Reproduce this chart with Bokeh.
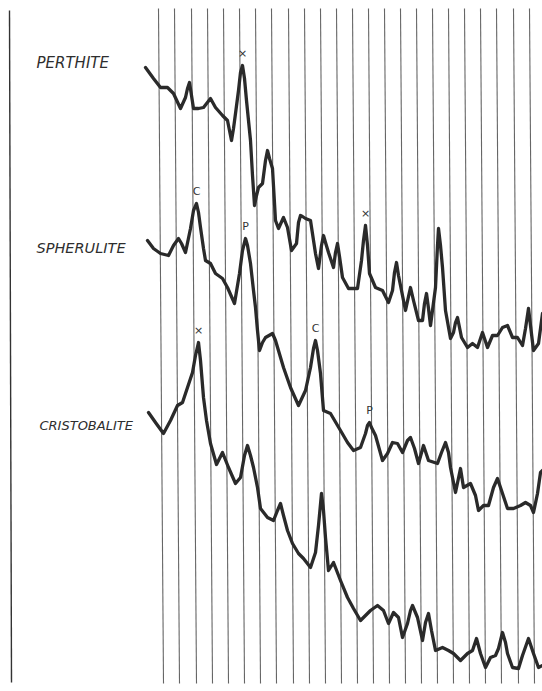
import numpy as np
from bokeh.plotting import figure
from bokeh.models import Range1d
from bokeh.core.properties import value
from bokeh.embed import file_html
from bokeh.resources import INLINE

# ---- chart paper: vertical ruling (position of each ruled line at the top edge)
grid_x = [158, 174, 191, 207, 223, 239, 255, 271, 288, 304, 320, 336,
          352, 368, 384, 400, 416, 432, 448, 464, 480, 496, 513, 529]

# ---- diffractometer traces (chart position, pen position; smaller = higher)
perthite_x = [145, 153, 160, 167, 173, 180, 185, 187, 189, 191, 193, 198, 203, 210, 215, 222,
              227, 231, 233, 235, 238, 240, 242, 244, 246, 248, 250, 252, 254, 256, 258, 262,
              265, 267, 269, 272, 275, 278, 283, 287, 291, 296, 298, 300, 302, 305, 310, 315,
              318, 321, 323, 325, 328, 333, 335, 337, 339, 342, 348, 357, 361, 363, 365, 367,
              369, 375, 382, 388, 392, 394, 396, 398, 401, 405, 408, 410, 413, 418, 422, 424,
              426, 428, 430, 435, 437, 438, 440, 442, 445, 450, 453, 455, 457, 459, 461, 467,
              472, 477, 482, 487, 492, 497, 502, 507, 512, 517, 522, 525, 528, 530, 533, 538, 542]
perthite_y = [67, 78, 87, 87, 93, 108, 97, 88, 82, 95, 108, 108, 107, 98, 107, 115,
              120, 140, 128, 113, 90, 72, 65, 78, 100, 120, 140, 175, 205, 195, 187, 183,
              160, 150, 158, 168, 220, 228, 217, 227, 250, 243, 222, 215, 216, 218, 220, 253,
              268, 245, 235, 242, 252, 267, 252, 243, 256, 277, 288, 288, 260, 240, 225, 245,
              273, 287, 290, 302, 290, 272, 262, 275, 290, 310, 296, 287, 300, 320, 320, 303,
              293, 308, 325, 287, 245, 228, 245, 267, 310, 338, 332, 322, 317, 327, 337, 347,
              343, 347, 332, 347, 335, 335, 327, 325, 337, 337, 345, 328, 308, 325, 350, 343, 313]

spherulite_x = [147, 153, 160, 168, 173, 178, 181, 185, 190, 193, 196, 198, 200, 203, 205, 210,
                215, 222, 227, 234, 239, 242, 245, 247, 250, 253, 255, 257, 259, 262, 265, 272,
                275, 283, 290, 298, 305, 310, 313, 315, 317, 320, 323, 330, 340, 347, 353, 360,
                365, 367, 369, 371, 375, 382, 387, 392, 397, 402, 407, 410, 414, 418, 423, 428,
                437, 441, 445, 448, 450, 455, 460, 463, 470, 475, 478, 483, 488, 493, 497, 502,
                507, 513, 520, 525, 530, 533, 537, 540, 542]
spherulite_y = [240, 248, 253, 255, 245, 238, 243, 252, 228, 210, 203, 212, 227, 248, 260, 263,
                273, 278, 287, 303, 273, 250, 238, 245, 263, 290, 307, 330, 350, 342, 337, 333,
                340, 367, 387, 405, 390, 367, 348, 340, 350, 373, 410, 413, 430, 442, 450, 447,
                433, 425, 422, 427, 435, 460, 453, 442, 443, 452, 440, 437, 448, 463, 445, 460,
                463, 452, 442, 452, 467, 492, 468, 487, 483, 495, 510, 505, 505, 487, 478, 493,
                508, 508, 505, 502, 505, 512, 493, 472, 470]

cristobalite_x = [148, 155, 163, 170, 177, 182, 187, 192, 195, 198, 200, 203, 206, 210, 216, 222,
                  228, 235, 240, 244, 247, 250, 253, 257, 260, 267, 273, 277, 280, 283, 287, 292,
                  298, 303, 310, 315, 318, 321, 323, 325, 328, 333, 340, 347, 353, 360, 365, 370,
                  377, 383, 388, 393, 398, 402, 407, 410, 412, 417, 422, 425, 428, 431, 435, 442,
                  448, 453, 460, 467, 472, 476, 480, 485, 490, 495, 498, 502, 505, 507, 512, 518,
                  522, 528, 533, 538, 542]
cristobalite_y = [412, 422, 433, 420, 405, 402, 387, 372, 355, 342, 360, 397, 420, 443, 464, 452,
                  467, 483, 477, 455, 445, 455, 467, 487, 508, 517, 520, 510, 503, 515, 530, 543,
                  553, 558, 567, 552, 525, 493, 510, 537, 570, 562, 580, 597, 608, 620, 615, 610,
                  605, 610, 623, 612, 617, 637, 623, 610, 605, 617, 640, 622, 613, 630, 650, 647,
                  650, 653, 660, 653, 650, 638, 653, 667, 657, 655, 648, 632, 642, 653, 667, 668,
                  655, 638, 653, 667, 665]

sample_names = ["Perthite", "Spherulite", "Cristobalite"]
sample_label_text = ["PERTHITE", "SPHERULITE", "CRISTOBALITE"]
sample_label_x = [36, 36, 39]
sample_label_y = [62, 247, 425]
sample_label_size = ["15px", "14.5px", "13px"]

# peak identifications
peak_trace = ["Perthite", "Perthite", "Spherulite", "Spherulite", "Spherulite", "Spherulite",
              "Cristobalite"]
peak_x = [242, 365, 196, 245, 315, 369, 198]
peak_label = ["×", "×", "C", "P", "C", "P", "×"]

traces = {
    "Perthite": (perthite_x, perthite_y),
    "Spherulite": (spherulite_x, spherulite_y),
    "Cristobalite": (cristobalite_x, cristobalite_y),
}

W, H = 542, 691
p = figure(width=W, height=H, output_backend="svg", toolbar_location=None,
           x_range=Range1d(0, W), y_range=Range1d(H, 0),
           min_border=0, outline_line_color=None, background_fill_color="white",
           border_fill_color="white")
p.axis.visible = False
p.grid.visible = False

# ruled lines (slightly skewed in the scan)
p.segment(x0=grid_x, y0=[8] * len(grid_x), x1=[gx + 5 for gx in grid_x], y1=[683] * len(grid_x),
          line_color="#666666", line_width=1.1)
# left border rule
p.segment(x0=[9], y0=[10], x1=[11], y1=[682], line_color="#333333", line_width=1.4)

for name in sample_names:
    xs, ys = traces[name]
    p.line(xs, ys, line_color="#2a2a2a", line_width=3.3, line_join="round", line_cap="round")

# sample names
p.text(x=sample_label_x, y=sample_label_y, text=sample_label_text,
       text_font=value("DejaVu Sans"), text_font_style="italic", text_font_size=sample_label_size,
       text_color="#2e2e2e", text_align="left", text_baseline="middle")

# peak markers, placed just above the trace at the peak position
py = []
for tname, px in zip(peak_trace, peak_x):
    xs, ys = traces[tname]
    py.append(float(np.interp(px, xs, ys)))
p.text(x=peak_x, y=py, text=peak_label,
       text_font=value("DejaVu Sans"), text_font_style="normal", text_font_size="11px",
       text_color="#333333", text_align="center", text_baseline="middle", y_offset=-12)

open("out.html", "w").write(file_html(p, INLINE))
